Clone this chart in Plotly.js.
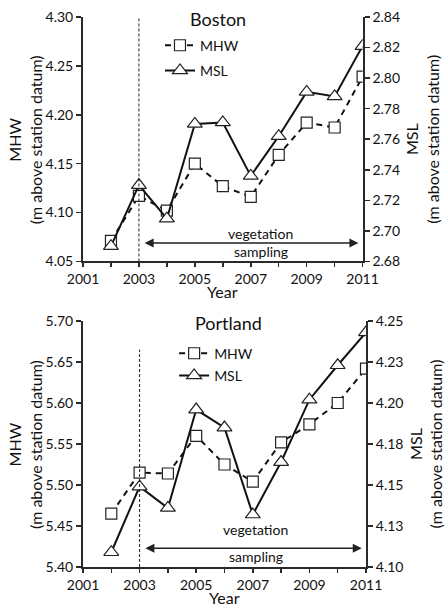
<!DOCTYPE html>
<html>
<head>
<meta charset="utf-8">
<script src="https://cdn.plot.ly/plotly-3.0.1.min.js"></script>
<style>html,body{margin:0;padding:0;background:#fff;}#chart{width:448px;height:610px;}</style>
</head>
<body>
<div id="chart"></div>
<script>
// ---- data ----
const years = [2002, 2003, 2004, 2005, 2006, 2007, 2008, 2009, 2010, 2011];
const bostonMHW = [4.071, 4.117, 4.102, 4.150, 4.127, 4.116, 4.159, 4.192, 4.187, 4.239];
const bostonMSL = [2.690, 2.730, 2.708, 2.770, 2.771, 2.736, 2.762, 2.791, 2.788, 2.821];
const portlandMHW = [5.465, 5.515, 5.514, 5.560, 5.525, 5.504, 5.552, 5.574, 5.600, 5.642];
const portlandMSL = [4.109, 4.149, 4.136, 4.196, 4.185, 4.132, 4.164, 4.202, 4.223, 4.243];
const portlandMSLTickVals = [4.10, 4.125, 4.15, 4.175, 4.20, 4.225, 4.25];
const portlandMSLTickText = ["4.10", "4.13", "4.15", "4.18", "4.20", "4.23", "4.25"];
const seriesNames = ["MHW", "MSL"];
const panelTitles = ["Boston", "Portland"];
const xTitle = "Year";
const leftTitle = "MHW<br>(m above station datum)";
const rightTitle = "MSL<br>(m above station datum)";
const samplingStart = 2003;
const samplingEnd = 2011;

const FONT = "Lato, 'Open Sans', sans-serif";
const AX = "#2a2a2a";

function mhwTrace(y, xa, ya, leg, grp) {
  return {x: years, y: y, xaxis: xa, yaxis: ya, name: seriesNames[0], legend: leg, legendgroup: grp,
    mode: "lines+markers", line: {color: "#111", width: 2, dash: "6px,5px"},
    marker: {symbol: "square", size: 11, color: "#fff", line: {color: "#222", width: 1.2}}};
}
function mslTrace(y, xa, ya, leg, grp) {
  return {x: years, y: y, xaxis: xa, yaxis: ya, name: seriesNames[1], legend: leg, legendgroup: grp,
    mode: "lines+markers", line: {color: "#111", width: 2},
    marker: {symbol: "triangle-up", size: 13, color: "#fff", line: {color: "#222", width: 1.2}}};
}

const data = [
  mhwTrace(bostonMHW, "x", "y", "legend", "a1"),
  mslTrace(bostonMSL, "x", "y2", "legend", "a2"),
  mhwTrace(portlandMHW, "x2", "y3", "legend2", "b1"),
  mslTrace(portlandMSL, "x2", "y4", "legend2", "b2")
];

const tickFont = {family: FONT, size: 14, color: "#111"};
const titleFont = {family: FONT, size: 16, color: "#111"};

function xaxis(domain, anchor) {
  return {domain: domain, anchor: anchor, range: [2001, 2011], tick0: 2001, dtick: 2,
    showline: true, linecolor: AX, linewidth: 2, ticks: "outside", ticklen: 4, tickcolor: AX, tickwidth: 1.5,
    minor: {dtick: 1, tick0: 2001, ticks: "outside", ticklen: 4, tickcolor: AX, tickwidth: 1.5},
    showgrid: false, zeroline: false, tickfont: tickFont};
}
function yleft(domain, anchor, range, dtick) {
  return {domain: domain, anchor: anchor, range: range, dtick: dtick, tickformat: ".2f",
    showline: true, linecolor: AX, linewidth: 2, ticks: "outside", ticklen: 5, tickcolor: AX, tickwidth: 1.5,
    showgrid: false, zeroline: false, tickfont: tickFont};
}
function yright(overlay, anchor, range) {
  return {overlaying: overlay, side: "right", anchor: anchor, range: range,
    showline: true, linecolor: AX, linewidth: 2, ticks: "outside", ticklen: 5, tickcolor: AX, tickwidth: 1.5,
    showgrid: false, zeroline: false, tickfont: tickFont,
    title: {text: rightTitle, font: titleFont, standoff: 8}};
}

const y2 = yright("y", "x", [2.68, 2.84]);
y2.dtick = 0.02; y2.tickformat = ".2f";
const y4 = yright("y3", "x2", [4.10, 4.25]);
y4.tickvals = portlandMSLTickVals; y4.ticktext = portlandMSLTickText;

function yTitleAnn(yref) {
  return {text: leftTitle, xref: "paper", yref: yref + " domain", x: -0.205, y: 0.5,
    xanchor: "center", yanchor: "middle", textangle: -90, showarrow: false, font: titleFont};
}
function xTitleAnn(xref, yref) {
  return {text: xTitle, xref: xref + " domain", yref: yref + " domain", x: 0.5, y: 0,
    xanchor: "center", yanchor: "middle", yshift: -30.5, showarrow: false, font: titleFont};
}

const layout = {
  width: 448, height: 610,
  margin: {l: 83, r: 82, t: 17, b: 43},
  paper_bgcolor: "#fff", plot_bgcolor: "#fff",
  font: {family: FONT, color: "#111"},
  xaxis: xaxis([0, 0.988], "y"),
  yaxis: yleft([0.5555, 1], "x", [4.05, 4.30], 0.05),
  yaxis2: y2,
  xaxis2: xaxis([0, 1], "y3"),
  yaxis3: yleft([0, 0.4473], "x2", [5.40, 5.70], 0.05),
  yaxis4: y4,
  legend: {x: 0.272, y: 0.977, xanchor: "left", yanchor: "top", bgcolor: "rgba(0,0,0,0)",
    font: {family: FONT, size: 14, color: "#111"}, tracegroupgap: 4},
  legend2: {x: 0.322, y: 0.417, xanchor: "left", yanchor: "top", bgcolor: "rgba(0,0,0,0)",
    font: {family: FONT, size: 14, color: "#111"}, tracegroupgap: 1},
  shapes: [
    {type: "line", xref: "x", yref: "y", x0: samplingStart, x1: samplingStart, y0: 4.05, y1: 4.30,
      line: {color: "#222", width: 1, dash: "3px,2px"}},
    {type: "line", xref: "x2", yref: "y3", x0: samplingStart, x1: samplingStart, y0: 5.40, y1: 5.665,
      line: {color: "#222", width: 1, dash: "3px,2px"}}
  ],
  annotations: [
    yTitleAnn("y"), yTitleAnn("y3"), xTitleAnn("x", "y"), xTitleAnn("x2", "y3"),
    {text: panelTitles[0], xref: "x", yref: "y", x: 2005.83, y: 4.298, showarrow: false,
      font: {family: FONT, size: 18, color: "#111"}},
    {text: panelTitles[1], xref: "x2", yref: "y3", x: 2006.15, y: 5.698, showarrow: false,
      font: {family: FONT, size: 18, color: "#111"}},
    {text: "", xref: "x", yref: "y", axref: "x", ayref: "y", x: 2010.85, y: 4.069, ax: 2003.15, ay: 4.069,
      showarrow: true, arrowside: "end+start", arrowhead: 2, arrowsize: 1.2, arrowwidth: 1.5, arrowcolor: "#222",
      standoff: 0, startstandoff: 0},
    {text: "", xref: "x2", yref: "y3", axref: "x2", ayref: "y3", x: 2010.85, y: 5.423, ax: 2003.15, ay: 5.423,
      showarrow: true, arrowside: "end+start", arrowhead: 2, arrowsize: 1.2, arrowwidth: 1.5, arrowcolor: "#222",
      standoff: 0, startstandoff: 0},
    {text: "vegetation", xref: "x", yref: "y", x: 2007.35, y: 4.0785, showarrow: false,
      font: {family: FONT, size: 14, color: "#111"}},
    {text: "sampling", xref: "x", yref: "y", x: 2007.35, y: 4.060, showarrow: false,
      font: {family: FONT, size: 14, color: "#111"}},
    {text: "vegetation", xref: "x2", yref: "y3", x: 2007.1, y: 5.4457, showarrow: false,
      font: {family: FONT, size: 14, color: "#111"}},
    {text: "sampling", xref: "x2", yref: "y3", x: 2007.1, y: 5.413, showarrow: false,
      font: {family: FONT, size: 14, color: "#111"}}
  ]
};

Plotly.newPlot("chart", data, layout, {displayModeBar: false, staticPlot: true});
</script>
</body>
</html>
